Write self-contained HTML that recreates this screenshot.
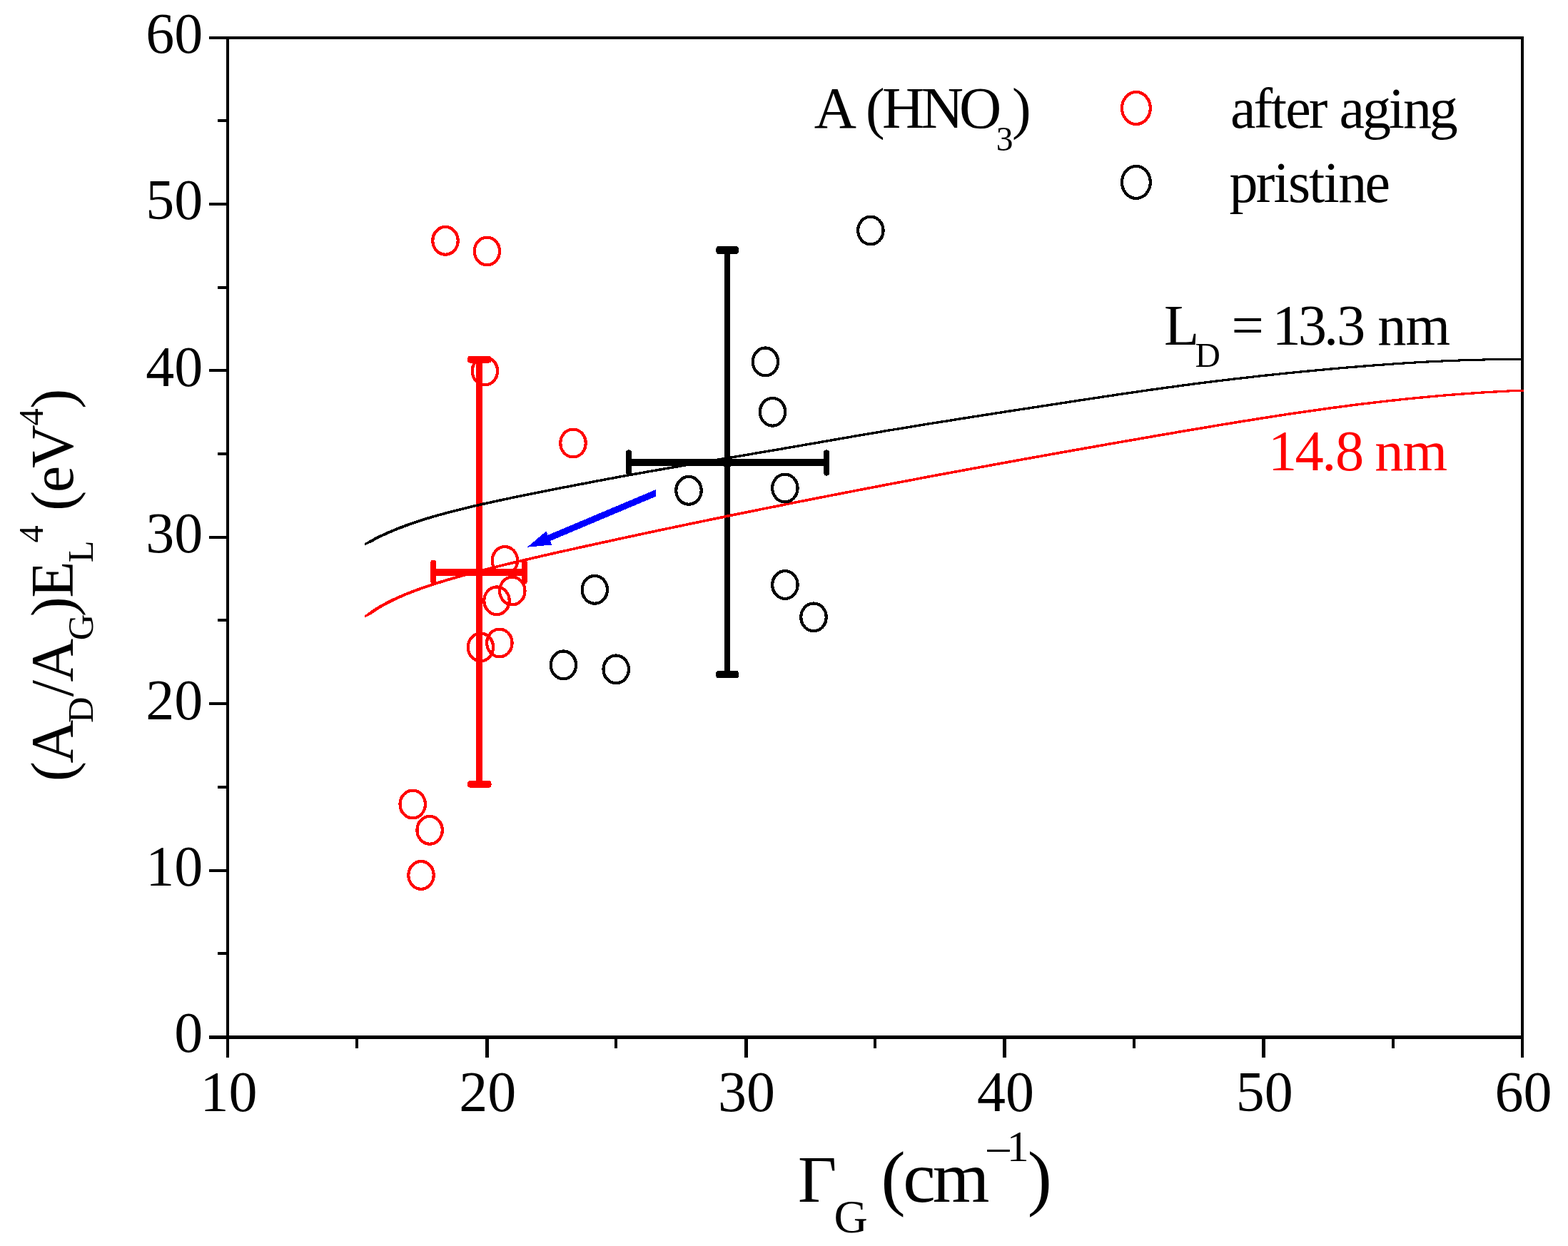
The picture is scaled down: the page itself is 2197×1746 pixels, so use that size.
<!DOCTYPE html>
<html lang="en"><head><meta charset="utf-8"><title>Raman plot: (A_D/A_G)E_L^4 vs Gamma_G</title>
<style>
html,body{margin:0;padding:0;background:#fff;}
body{width:2197px;height:1746px;overflow:hidden;}
svg text{font-family:"Liberation Serif","DejaVu Serif",serif;font-kerning:none;white-space:pre;}
</style></head><body>
<svg width="2197" height="1746" viewBox="0 0 2197 1746" style="display:block">
<rect width="2197" height="1746" fill="#fff"/>
<g shape-rendering="crispEdges">
<rect x="667.10" y="503.80" width="9.00" height="595.00" fill="#ff0000"/>
<rect x="655.00" y="498.80" width="33.50" height="9.80" fill="#ff0000" rx="4"/>
<rect x="655.00" y="1094.00" width="33.50" height="9.70" fill="#ff0000" rx="4"/>
<rect x="603.30" y="797.00" width="135.50" height="10.00" fill="#ff0000"/>
<rect x="603.30" y="784.50" width="7.70" height="34.00" fill="#ff0000" rx="4"/>
<rect x="731.00" y="784.50" width="7.80" height="34.00" fill="#ff0000" rx="4"/>
<circle cx="671.6" cy="802" r="7.3" fill="#ff0000"/>
<rect x="1015.00" y="350.40" width="8.20" height="594.60" fill="#000000"/>
<rect x="1003.30" y="345.20" width="31.70" height="10.60" fill="#000000" rx="4"/>
<rect x="1003.30" y="939.80" width="31.70" height="10.60" fill="#000000" rx="4"/>
<rect x="877.20" y="643.10" width="284.70" height="10.00" fill="#000000"/>
<rect x="877.20" y="630.40" width="7.70" height="36.20" fill="#000000" rx="4"/>
<rect x="1154.20" y="630.40" width="7.70" height="36.20" fill="#000000" rx="4"/>
<circle cx="1019" cy="648.2" r="7.3" fill="#000000"/>
<rect x="317.00" y="51.00" width="4.00" height="1431.00" fill="#000000"/>
<rect x="2131.00" y="51.00" width="4.00" height="1431.00" fill="#000000"/>
<rect x="293.00" y="51.00" width="1842.00" height="4.00" fill="#000000"/>
<rect x="293.00" y="1451.00" width="1842.00" height="5.00" fill="#000000"/>
<rect x="305.00" y="1334.00" width="14.00" height="4.00" fill="#000000"/>
<rect x="293.00" y="1218.00" width="26.00" height="4.00" fill="#000000"/>
<rect x="305.00" y="1101.00" width="14.00" height="4.00" fill="#000000"/>
<rect x="293.00" y="984.00" width="26.00" height="4.00" fill="#000000"/>
<rect x="305.00" y="867.00" width="14.00" height="4.00" fill="#000000"/>
<rect x="293.00" y="751.00" width="26.00" height="4.00" fill="#000000"/>
<rect x="305.00" y="634.00" width="14.00" height="4.00" fill="#000000"/>
<rect x="293.00" y="517.00" width="26.00" height="4.00" fill="#000000"/>
<rect x="305.00" y="401.00" width="14.00" height="4.00" fill="#000000"/>
<rect x="293.00" y="284.00" width="26.00" height="4.00" fill="#000000"/>
<rect x="305.00" y="167.00" width="14.00" height="4.00" fill="#000000"/>
<rect x="498.00" y="1453.00" width="4.00" height="16.00" fill="#000000"/>
<rect x="679.50" y="1453.00" width="5.00" height="29.00" fill="#000000"/>
<rect x="861.00" y="1453.00" width="4.00" height="16.00" fill="#000000"/>
<rect x="1042.50" y="1453.00" width="5.00" height="29.00" fill="#000000"/>
<rect x="1224.00" y="1453.00" width="4.00" height="16.00" fill="#000000"/>
<rect x="1404.50" y="1453.00" width="5.00" height="29.00" fill="#000000"/>
<rect x="1587.00" y="1453.00" width="4.00" height="16.00" fill="#000000"/>
<rect x="1767.50" y="1453.00" width="5.00" height="29.00" fill="#000000"/>
<rect x="1950.00" y="1453.00" width="4.00" height="16.00" fill="#000000"/>
<path d="M511.4,761.0 L521.0,755.3 L530.6,750.3 L540.2,745.9 L549.8,741.8 L559.4,737.9 L569.0,734.3 L578.6,730.9 L588.2,727.7 L597.8,724.7 L607.4,721.9 L617.0,719.2 L626.6,716.6 L636.3,714.1 L645.9,711.7 L655.5,709.4 L665.1,707.1 L674.7,704.9 L684.3,702.8 L693.9,700.7 L703.5,698.6 L713.1,696.6 L722.7,694.6 L732.3,692.7 L741.9,690.7 L751.5,688.8 L761.1,686.9 L770.7,685.0 L780.3,683.1 L789.9,681.2 L799.5,679.4 L809.1,677.5 L818.7,675.7 L828.3,673.8 L837.9,672.0 L847.5,670.2 L857.1,668.4 L866.8,666.6 L876.4,664.9 L886.0,663.1 L895.6,661.4 L905.2,659.7 L914.8,658.0 L924.4,656.3 L934.0,654.7 L943.6,653.0 L953.2,651.4 L962.8,649.7 L972.4,648.1 L982.0,646.4 L991.6,644.8 L1001.2,643.2 L1010.8,641.6 L1020.4,639.9 L1030.0,638.3 L1039.6,636.7 L1049.2,635.1 L1058.8,633.4 L1068.4,631.8 L1078.0,630.2 L1087.6,628.5 L1097.3,626.9 L1106.9,625.2 L1116.5,623.6 L1126.1,621.9 L1135.7,620.2 L1145.3,618.6 L1154.9,616.9 L1164.5,615.2 L1174.1,613.5 L1183.7,611.9 L1193.3,610.2 L1202.9,608.5 L1212.5,606.9 L1222.1,605.3 L1231.7,603.7 L1241.3,602.0 L1250.9,600.5 L1260.5,598.9 L1270.1,597.3 L1279.7,595.7 L1289.3,594.2 L1298.9,592.6 L1308.5,591.1 L1318.1,589.5 L1327.8,588.0 L1337.4,586.5 L1347.0,584.9 L1356.6,583.4 L1366.2,581.9 L1375.8,580.4 L1385.4,578.9 L1395.0,577.4 L1404.6,575.9 L1414.2,574.4 L1423.8,573.0 L1433.4,571.5 L1443.0,570.0 L1452.6,568.5 L1462.2,567.0 L1471.8,565.6 L1481.4,564.1 L1491.0,562.6 L1500.6,561.2 L1510.2,559.7 L1519.8,558.2 L1529.4,556.8 L1539.0,555.3 L1548.6,553.9 L1558.3,552.4 L1567.9,551.0 L1577.5,549.6 L1587.1,548.2 L1596.7,546.8 L1606.3,545.4 L1615.9,544.0 L1625.5,542.7 L1635.1,541.4 L1644.7,540.1 L1654.3,538.8 L1663.9,537.5 L1673.5,536.2 L1683.1,535.0 L1692.7,533.8 L1702.3,532.6 L1711.9,531.5 L1721.5,530.3 L1731.1,529.2 L1740.7,528.1 L1750.3,527.0 L1759.9,525.9 L1769.5,524.8 L1779.1,523.8 L1788.8,522.8 L1798.4,521.8 L1808.0,520.8 L1817.6,519.9 L1827.2,518.9 L1836.8,518.0 L1846.4,517.1 L1856.0,516.2 L1865.6,515.3 L1875.2,514.5 L1884.8,513.6 L1894.4,512.8 L1904.0,512.0 L1913.6,511.2 L1923.2,510.5 L1932.8,509.8 L1942.4,509.1 L1952.0,508.4 L1961.6,507.7 L1971.2,507.1 L1980.8,506.5 L1990.4,506.0 L2000.0,505.4 L2009.6,504.9 L2019.3,504.5 L2028.9,504.1 L2038.5,503.7 L2048.1,503.3 L2057.7,503.0 L2067.3,502.7 L2076.9,502.5 L2086.5,502.3 L2096.1,502.2 L2105.7,502.0 L2115.3,502.0 L2124.9,501.9 L2134.5,501.9 L2134.5,504.9 L2124.9,504.9 L2115.3,505.0 L2105.7,505.1 L2096.1,505.2 L2086.5,505.4 L2076.9,505.6 L2067.3,505.8 L2057.7,506.1 L2048.1,506.4 L2038.5,506.8 L2028.9,507.2 L2019.3,507.6 L2009.6,508.1 L2000.0,508.6 L1990.4,509.1 L1980.8,509.7 L1971.2,510.3 L1961.6,510.9 L1952.0,511.6 L1942.4,512.3 L1932.8,513.0 L1923.2,513.7 L1913.6,514.5 L1904.0,515.3 L1894.4,516.1 L1884.8,516.9 L1875.2,517.7 L1865.6,518.6 L1856.0,519.5 L1846.4,520.4 L1836.8,521.3 L1827.2,522.2 L1817.6,523.2 L1808.0,524.1 L1798.4,525.1 L1788.8,526.1 L1779.1,527.1 L1769.5,528.2 L1759.9,529.2 L1750.3,530.3 L1740.7,531.4 L1731.1,532.5 L1721.5,533.7 L1711.9,534.8 L1702.3,536.0 L1692.7,537.2 L1683.1,538.4 L1673.5,539.6 L1663.9,540.9 L1654.3,542.2 L1644.7,543.5 L1635.1,544.8 L1625.5,546.1 L1615.9,547.5 L1606.3,548.8 L1596.7,550.2 L1587.1,551.6 L1577.5,553.0 L1567.9,554.4 L1558.3,555.9 L1548.6,557.3 L1539.0,558.8 L1529.4,560.2 L1519.8,561.7 L1510.2,563.1 L1500.6,564.6 L1491.0,566.1 L1481.4,567.6 L1471.8,569.0 L1462.2,570.5 L1452.6,572.0 L1443.0,573.5 L1433.4,574.9 L1423.8,576.4 L1414.2,577.9 L1404.6,579.4 L1395.0,580.9 L1385.4,582.4 L1375.8,583.9 L1366.2,585.4 L1356.6,586.9 L1347.0,588.4 L1337.4,589.9 L1327.8,591.5 L1318.1,593.0 L1308.5,594.5 L1298.9,596.1 L1289.3,597.6 L1279.7,599.2 L1270.1,600.8 L1260.5,602.4 L1250.9,603.9 L1241.3,605.5 L1231.7,607.2 L1222.1,608.8 L1212.5,610.4 L1202.9,612.1 L1193.3,613.7 L1183.7,615.4 L1174.1,617.1 L1164.5,618.7 L1154.9,620.4 L1145.3,622.1 L1135.7,623.8 L1126.1,625.4 L1116.5,627.1 L1106.9,628.7 L1097.3,630.4 L1087.6,632.0 L1078.0,633.7 L1068.4,635.3 L1058.8,636.9 L1049.2,638.6 L1039.6,640.2 L1030.0,641.8 L1020.4,643.4 L1010.8,645.1 L1001.2,646.7 L991.6,648.3 L982.0,650.0 L972.4,651.6 L962.8,653.2 L953.2,654.9 L943.6,656.5 L934.0,658.2 L924.4,659.9 L914.8,661.5 L905.2,663.2 L895.6,665.0 L886.0,666.7 L876.4,668.4 L866.8,670.2 L857.1,672.0 L847.5,673.8 L837.9,675.6 L828.3,677.4 L818.7,679.3 L809.1,681.1 L799.5,683.0 L789.9,684.8 L780.3,686.7 L770.7,688.6 L761.1,690.5 L751.5,692.4 L741.9,694.3 L732.3,696.3 L722.7,698.2 L713.1,700.2 L703.5,702.3 L693.9,704.4 L684.3,706.5 L674.7,708.6 L665.1,710.8 L655.5,713.1 L645.9,715.5 L636.3,717.9 L626.6,720.4 L617.0,723.0 L607.4,725.8 L597.8,728.6 L588.2,731.7 L578.6,735.0 L569.0,738.4 L559.4,742.1 L549.8,746.0 L540.2,750.2 L530.6,754.8 L521.0,759.9 L511.4,764.0Z" fill="#000000"/>
<path d="M511.3,862.2 L521.0,855.0 L530.6,848.9 L540.2,843.6 L549.8,838.8 L559.4,834.4 L569.0,830.4 L578.6,826.6 L588.2,823.1 L597.8,819.8 L607.4,816.6 L617.0,813.6 L626.6,810.7 L636.2,807.9 L645.8,805.2 L655.4,802.6 L665.0,800.0 L674.6,797.5 L684.2,795.1 L693.8,792.7 L703.4,790.3 L713.0,788.0 L722.7,785.7 L732.3,783.5 L741.9,781.2 L751.5,779.0 L761.1,776.8 L770.7,774.6 L780.3,772.4 L789.9,770.3 L799.5,768.2 L809.1,766.0 L818.7,763.9 L828.3,761.8 L837.9,759.7 L847.5,757.6 L857.1,755.5 L866.7,753.4 L876.3,751.4 L885.9,749.3 L895.5,747.2 L905.1,745.2 L914.7,743.1 L924.4,741.1 L934.0,739.1 L943.6,737.1 L953.2,735.1 L962.8,733.0 L972.4,731.0 L982.0,729.1 L991.6,727.1 L1001.2,725.1 L1010.8,723.1 L1020.4,721.1 L1030.0,719.2 L1039.6,717.2 L1049.2,715.3 L1058.8,713.3 L1068.4,711.4 L1078.0,709.5 L1087.6,707.6 L1097.2,705.6 L1106.8,703.7 L1116.4,701.8 L1126.1,699.9 L1135.7,698.0 L1145.3,696.1 L1154.9,694.3 L1164.5,692.4 L1174.1,690.5 L1183.7,688.6 L1193.3,686.8 L1202.9,684.9 L1212.5,683.1 L1222.1,681.2 L1231.7,679.4 L1241.3,677.5 L1250.9,675.7 L1260.5,673.9 L1270.1,672.1 L1279.7,670.3 L1289.3,668.4 L1298.9,666.6 L1308.5,664.8 L1318.1,663.0 L1327.8,661.2 L1337.4,659.5 L1347.0,657.7 L1356.6,655.9 L1366.2,654.1 L1375.8,652.4 L1385.4,650.6 L1395.0,648.8 L1404.6,647.1 L1414.2,645.3 L1423.8,643.6 L1433.4,641.9 L1443.0,640.1 L1452.6,638.4 L1462.2,636.7 L1471.8,634.9 L1481.4,633.2 L1491.0,631.5 L1500.6,629.8 L1510.2,628.1 L1519.8,626.4 L1529.5,624.7 L1539.1,623.0 L1548.7,621.3 L1558.3,619.6 L1567.9,618.0 L1577.5,616.3 L1587.1,614.6 L1596.7,613.0 L1606.3,611.3 L1615.9,609.6 L1625.5,608.0 L1635.1,606.3 L1644.7,604.7 L1654.3,603.0 L1663.9,601.4 L1673.5,599.8 L1683.1,598.1 L1692.7,596.5 L1702.3,594.9 L1711.9,593.3 L1721.5,591.7 L1731.2,590.2 L1740.8,588.6 L1750.4,587.1 L1760.0,585.5 L1769.6,584.0 L1779.2,582.5 L1788.8,581.0 L1798.4,579.6 L1808.0,578.1 L1817.6,576.7 L1827.2,575.3 L1836.8,573.9 L1846.4,572.6 L1856.0,571.2 L1865.6,569.9 L1875.2,568.6 L1884.8,567.4 L1894.4,566.1 L1904.0,564.9 L1913.6,563.8 L1923.2,562.6 L1932.9,561.5 L1942.5,560.4 L1952.1,559.3 L1961.7,558.3 L1971.3,557.3 L1980.9,556.3 L1990.5,555.4 L2000.1,554.5 L2009.7,553.6 L2019.3,552.7 L2028.9,551.9 L2038.5,551.2 L2048.1,550.4 L2057.7,549.7 L2067.3,549.1 L2076.9,548.4 L2086.5,547.8 L2096.1,547.3 L2105.7,546.8 L2115.3,546.3 L2124.9,545.8 L2134.6,545.6 L2134.6,548.7 L2124.9,549.1 L2115.3,549.5 L2105.7,550.0 L2096.1,550.6 L2086.5,551.1 L2076.9,551.7 L2067.3,552.4 L2057.7,553.0 L2048.1,553.8 L2038.5,554.5 L2028.9,555.3 L2019.3,556.1 L2009.7,557.0 L2000.1,557.9 L1990.5,558.8 L1980.9,559.7 L1971.3,560.7 L1961.7,561.7 L1952.1,562.8 L1942.5,563.8 L1932.9,564.9 L1923.2,566.1 L1913.6,567.2 L1904.0,568.4 L1894.4,569.6 L1884.8,570.9 L1875.2,572.2 L1865.6,573.4 L1856.0,574.8 L1846.4,576.1 L1836.8,577.5 L1827.2,578.9 L1817.6,580.3 L1808.0,581.7 L1798.4,583.1 L1788.8,584.6 L1779.2,586.1 L1769.6,587.6 L1760.0,589.1 L1750.4,590.7 L1740.8,592.2 L1731.2,593.8 L1721.5,595.4 L1711.9,596.9 L1702.3,598.5 L1692.7,600.2 L1683.1,601.8 L1673.5,603.4 L1663.9,605.0 L1654.3,606.7 L1644.7,608.3 L1635.1,610.0 L1625.5,611.6 L1615.9,613.3 L1606.3,614.9 L1596.7,616.6 L1587.1,618.3 L1577.5,619.9 L1567.9,621.6 L1558.3,623.3 L1548.7,625.0 L1539.1,626.7 L1529.5,628.4 L1519.8,630.1 L1510.2,631.8 L1500.6,633.5 L1491.0,635.2 L1481.4,636.9 L1471.8,638.6 L1462.2,640.3 L1452.6,642.1 L1443.0,643.8 L1433.4,645.5 L1423.8,647.3 L1414.2,649.0 L1404.6,650.8 L1395.0,652.5 L1385.4,654.3 L1375.8,656.0 L1366.2,657.8 L1356.6,659.6 L1347.0,661.4 L1337.4,663.1 L1327.8,664.9 L1318.1,666.7 L1308.5,668.5 L1298.9,670.3 L1289.3,672.1 L1279.7,673.9 L1270.1,675.8 L1260.5,677.6 L1250.9,679.4 L1241.3,681.2 L1231.7,683.1 L1222.1,684.9 L1212.5,686.8 L1202.9,688.6 L1193.3,690.5 L1183.7,692.3 L1174.1,694.2 L1164.5,696.1 L1154.9,698.0 L1145.3,699.8 L1135.7,701.7 L1126.1,703.6 L1116.4,705.5 L1106.8,707.4 L1097.2,709.4 L1087.6,711.3 L1078.0,713.2 L1068.4,715.1 L1058.8,717.1 L1049.2,719.0 L1039.6,721.0 L1030.0,722.9 L1020.4,724.9 L1010.8,726.9 L1001.2,728.8 L991.6,730.8 L982.0,732.8 L972.4,734.8 L962.8,736.8 L953.2,738.8 L943.6,740.8 L934.0,742.8 L924.4,744.9 L914.7,746.9 L905.1,748.9 L895.5,751.0 L885.9,753.1 L876.3,755.1 L866.7,757.2 L857.1,759.3 L847.5,761.4 L837.9,763.5 L828.3,765.6 L818.7,767.7 L809.1,769.8 L799.5,771.9 L789.9,774.1 L780.3,776.2 L770.7,778.4 L761.1,780.6 L751.5,782.8 L741.9,785.0 L732.3,787.3 L722.7,789.6 L713.0,791.9 L703.4,794.2 L693.8,796.6 L684.2,799.0 L674.6,801.4 L665.0,804.0 L655.4,806.5 L645.8,809.2 L636.2,811.9 L626.6,814.7 L617.0,817.7 L607.4,820.7 L597.8,823.9 L588.2,827.3 L578.6,830.9 L569.0,834.7 L559.4,838.9 L549.8,843.4 L540.2,848.3 L530.6,853.9 L521.0,860.3 L511.3,865.3Z" fill="#ff0000"/>
<ellipse cx="1219.90" cy="323.00" rx="17.7" ry="19.4" fill="none" stroke="#000000" stroke-width="4.2"/>
<ellipse cx="1072.40" cy="506.90" rx="17.7" ry="19.4" fill="none" stroke="#000000" stroke-width="4.2"/>
<ellipse cx="1082.50" cy="577.30" rx="17.7" ry="19.4" fill="none" stroke="#000000" stroke-width="4.2"/>
<ellipse cx="965.00" cy="687.30" rx="17.7" ry="19.4" fill="none" stroke="#000000" stroke-width="4.2"/>
<ellipse cx="1099.90" cy="684.00" rx="17.7" ry="19.4" fill="none" stroke="#000000" stroke-width="4.2"/>
<ellipse cx="833.30" cy="826.30" rx="17.7" ry="19.4" fill="none" stroke="#000000" stroke-width="4.2"/>
<ellipse cx="1099.90" cy="819.50" rx="17.7" ry="19.4" fill="none" stroke="#000000" stroke-width="4.2"/>
<ellipse cx="1140.00" cy="864.90" rx="17.7" ry="19.4" fill="none" stroke="#000000" stroke-width="4.2"/>
<ellipse cx="789.40" cy="931.90" rx="17.7" ry="19.4" fill="none" stroke="#000000" stroke-width="4.2"/>
<ellipse cx="863.20" cy="937.90" rx="17.7" ry="19.4" fill="none" stroke="#000000" stroke-width="4.2"/>
<ellipse cx="624.00" cy="337.30" rx="17.7" ry="19.4" fill="none" stroke="#ff0000" stroke-width="4.2"/>
<ellipse cx="682.40" cy="352.00" rx="17.7" ry="19.4" fill="none" stroke="#ff0000" stroke-width="4.2"/>
<ellipse cx="679.40" cy="520.00" rx="17.7" ry="19.4" fill="none" stroke="#ff0000" stroke-width="4.2"/>
<ellipse cx="803.00" cy="621.00" rx="17.7" ry="19.4" fill="none" stroke="#ff0000" stroke-width="4.2"/>
<ellipse cx="707.40" cy="785.50" rx="17.7" ry="19.4" fill="none" stroke="#ff0000" stroke-width="4.2"/>
<ellipse cx="717.80" cy="828.00" rx="17.7" ry="19.4" fill="none" stroke="#ff0000" stroke-width="4.2"/>
<ellipse cx="696.00" cy="841.80" rx="17.7" ry="19.4" fill="none" stroke="#ff0000" stroke-width="4.2"/>
<ellipse cx="699.90" cy="901.00" rx="17.7" ry="19.4" fill="none" stroke="#ff0000" stroke-width="4.2"/>
<ellipse cx="673.40" cy="906.90" rx="17.7" ry="19.4" fill="none" stroke="#ff0000" stroke-width="4.2"/>
<ellipse cx="578.20" cy="1127.00" rx="17.7" ry="19.4" fill="none" stroke="#ff0000" stroke-width="4.2"/>
<ellipse cx="602.10" cy="1163.30" rx="17.7" ry="19.4" fill="none" stroke="#ff0000" stroke-width="4.2"/>
<ellipse cx="590.00" cy="1226.40" rx="17.7" ry="19.4" fill="none" stroke="#ff0000" stroke-width="4.2"/>
<ellipse cx="1591.90" cy="151.50" rx="19.9" ry="22.5" fill="none" stroke="#ff0000" stroke-width="4.2"/>
<ellipse cx="1591.90" cy="255.40" rx="19.9" ry="22.5" fill="none" stroke="#000000" stroke-width="4.2"/>
<polygon points="738.9,766.7 773.3,763.5 771.0,758.0 919.0,695.7 919.0,686.0 767.6,749.8 765.3,744.3" fill="#0000ff"/>
</g>
<g id="ticklabels">
<text fill="#000000"><tspan x="244.2" y="1474.3" font-size="80.0">0</tspan></text>
<text fill="#000000"><tspan x="204.2 244.2" y="1240.9" font-size="80.0">10</tspan></text>
<text fill="#000000"><tspan x="204.2 244.2" y="1007.5" font-size="80.0">20</tspan></text>
<text fill="#000000"><tspan x="204.2 244.2" y="774.0" font-size="80.0">30</tspan></text>
<text fill="#000000"><tspan x="204.2 244.2" y="540.6" font-size="80.0">40</tspan></text>
<text fill="#000000"><tspan x="204.2 244.2" y="307.2" font-size="80.0">50</tspan></text>
<text fill="#000000"><tspan x="204.2 244.2" y="73.8" font-size="80.0">60</tspan></text>
<text fill="#000000"><tspan x="280.5 320.5" y="1557.0" font-size="80.0">10</tspan></text>
<text fill="#000000"><tspan x="643.3 683.3" y="1557.0" font-size="80.0">20</tspan></text>
<text fill="#000000"><tspan x="1006.1 1046.1" y="1557.0" font-size="80.0">30</tspan></text>
<text fill="#000000"><tspan x="1368.9 1408.9" y="1557.0" font-size="80.0">40</tspan></text>
<text fill="#000000"><tspan x="1731.7 1771.7" y="1557.0" font-size="80.0">50</tspan></text>
<text fill="#000000"><tspan x="2094.5 2134.5" y="1557.0" font-size="80.0">60</tspan></text>
</g>
<g id="legend">
<text id="legend-title" fill="#000000"><tspan x="1140.7" y="179.2" font-size="82.0">A</tspan> <tspan x="1213.1" y="178.8" font-size="80.0">(</tspan><tspan x="1236.0 1290.7 1344.0" y="179.2" font-size="82.0">HNO</tspan><tspan x="1395.8" y="210.6" font-size="47.5">3</tspan><tspan x="1417.9" y="178.8" font-size="80.0">)</tspan></text>
<text fill="#000000"><tspan x="1723.9 1756.4 1780.8 1801.2 1833.8 1858.2 1876.5 1909.0 1945.7 1966.1 2002.7" y="179.2" font-size="80.0">after aging</tspan></text>
<text fill="#000000"><tspan x="1722.5 1759.7 1784.4 1805.0 1833.9 1854.6 1875.2 1912.4" y="283.2" font-size="80.0">pristine</tspan></text>
<text id="label-black" fill="#000000"><tspan x="1631.1" y="482.6" font-size="80.5">L</tspan><tspan x="1674.4" y="514.0" font-size="49.0">D</tspan> <tspan x="1725.6" y="482.6" font-size="80.5">=</tspan> <tspan x="1782.4 1818.7 1855.0 1873.1" y="482.6" font-size="80.5">13.3</tspan> <tspan x="1930.3 1969.5" y="482.6" font-size="80.5">nm</tspan></text>
<text id="label-red" fill="#ff0000"><tspan x="1777.0 1814.6 1852.2 1871.0" y="659.0" font-size="80.5">14.8</tspan> <tspan x="1926.3 1965.5" y="659.0" font-size="80.5">nm</tspan></text>
</g>
<text id="xtitle" fill="#000000"><tspan x="1117.9" y="1684.1" font-size="94.0">Γ</tspan><tspan x="1168.5" y="1726.6" font-size="65.5">G</tspan> <tspan x="1234.4 1265.3 1306.7" y="1684.4" font-size="102.5">(cm</tspan><tspan x="1383.6 1410.7" y="1627.0" font-size="62.0">–1</tspan><tspan x="1439.7" y="1684.4" font-size="102.5">)</tspan></text>
<text id="ytitle" transform="rotate(-90)" fill="#000000"><tspan x="-1094.9 -1069.4" y="101.5" font-size="84.0">(A</tspan><tspan x="-1012.9" y="130.4" font-size="50.5">D</tspan><tspan x="-976.3 -955.6" y="101.5" font-size="84.0">/A</tspan><tspan x="-897.3" y="130.4" font-size="50.5">G</tspan><tspan x="-864.2 -837.8" y="101.5" font-size="84.0">)E</tspan><tspan x="-788.2" y="130.4" font-size="50.5">L</tspan><tspan x="-760.5" y="60.4" font-size="48.5">4</tspan> <tspan x="-715.8 -690.0 -655.9" y="101.5" font-size="84.0">(eV</tspan><tspan x="-596.5" y="60.4" font-size="48.5">4</tspan><tspan x="-572.8" y="101.5" font-size="84.0">)</tspan></text>
</svg>
</body></html>
